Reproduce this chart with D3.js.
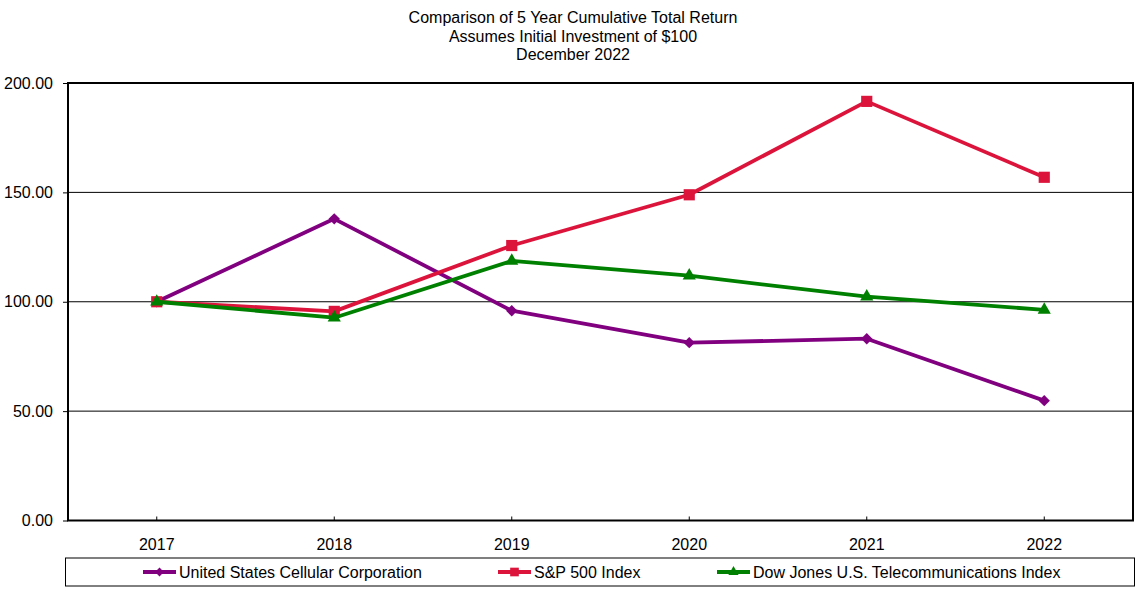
<!DOCTYPE html>
<html><head><meta charset="utf-8">
<script src="https://cdn.jsdelivr.net/npm/d3@7"></script>
<style>body{margin:0;background:#fff;font-family:"Liberation Sans",Arial,sans-serif;}</style>
</head><body><svg id="c" width="1146" height="593"></svg>
<script>
const years = ["2017","2018","2019","2020","2021","2022"];
const usccValues = [100, 137.9, 95.9, 81.3, 83.1, 54.8];
const spValues = [100, 95.6, 125.7, 148.9, 191.6, 156.9];
const djValues = [100, 92.7, 118.7, 111.9, 102.3, 96.3];
const yTicks = [0, 50, 100, 150, 200];
const titleLines = ["Comparison of 5 Year Cumulative Total Return","Assumes Initial Investment of $100","December 2022"];
const seriesNames = ["United States Cellular Corporation","S&P 500 Index","Dow Jones U.S. Telecommunications Index"];

const series = [
  {name: seriesNames[0], values: usccValues, color: "#800080", marker: "diamond"},
  {name: seriesNames[1], values: spValues, color: "#DC143C", marker: "square"},
  {name: seriesNames[2], values: djValues, color: "#008000", marker: "triangle"}
];

const svg = d3.select("#c");
const m = {left: 68, right: 1133, top: 83, bottom: 520.5};
const x = d3.scaleBand().domain(years).range([m.left, m.right]);
const y = d3.scaleLinear().domain([0, 200]).range([m.bottom, m.top]);
const cx = d => x(d) + x.bandwidth()/2;

// title
svg.append("g").selectAll("text").data(titleLines).join("text")
  .attr("x", 573).attr("y", (d,i) => 23 + i*18.5)
  .attr("text-anchor", "middle").attr("font-size", 16).attr("fill", "#000").text(d => d);

// gridlines
svg.append("g").selectAll("line").data(yTicks.filter(t => t > 0 && t < 200)).join("line")
  .attr("x1", m.left).attr("x2", m.right).attr("y1", d => y(d)).attr("y2", d => y(d))
  .attr("stroke", "#000").attr("stroke-width", 1);

// y axis
const yAxis = svg.append("g").attr("transform", `translate(${m.left},0)`)
  .call(d3.axisLeft(y).tickValues(yTicks).tickFormat(d3.format(".2f")).tickSize(5).tickPadding(10));
yAxis.select(".domain").remove();
yAxis.selectAll("text").attr("font-size", 16).attr("font-family", "Liberation Sans, Arial, sans-serif").attr("fill","#000");
yAxis.selectAll("line").attr("stroke","#000");

// x axis
const xAxis = svg.append("g").attr("transform", `translate(0,${m.bottom})`)
  .call(d3.axisBottom(x).tickSize(-4).tickPadding(18));
xAxis.select(".domain").remove();
xAxis.selectAll("text").attr("font-size", 16).attr("font-family", "Liberation Sans, Arial, sans-serif").attr("fill","#000");
xAxis.selectAll("line").attr("stroke","#000");

// frame
svg.append("rect").attr("x", m.left).attr("y", m.top).attr("width", m.right - m.left).attr("height", m.bottom - m.top)
  .attr("fill", "none").attr("stroke", "#000").attr("stroke-width", 2);

const symType = {diamond: d3.symbolSquare, square: d3.symbolSquare, triangle: d3.symbolTriangle};
const symSize = {diamond: 64, square: 125, triangle: 75};
const symRot = {diamond: 45, square: 0, triangle: 0};

const line = d3.line().x((d,i) => cx(years[i])).y(d => y(d));
series.forEach(s => {
  svg.append("path").datum(s.values).attr("d", line).attr("fill", "none")
    .attr("stroke", s.color).attr("stroke-width", 3.8).attr("stroke-linejoin", "round");
  svg.append("g").selectAll("path").data(s.values).join("path")
    .attr("transform", (d,i) => `translate(${cx(years[i])},${y(d)}) rotate(${symRot[s.marker]})`)
    .attr("d", d3.symbol().type(symType[s.marker]).size(symSize[s.marker]))
    .attr("fill", s.color);
});

// legend
svg.append("rect").attr("x", 65.5).attr("y", 558).attr("width", 1069).attr("height", 28)
  .attr("fill", "none").attr("stroke", "#000").attr("stroke-width", 1);
const legendX = [143, 498, 717];
const lg = svg.append("g").selectAll("g").data(series).join("g")
  .attr("transform", (d,i) => `translate(${legendX[i]},572)`);
lg.append("line").attr("x1", 0).attr("x2", 33).attr("y1", 0).attr("y2", 0)
  .attr("stroke", d => d.color).attr("stroke-width", 3.8);
lg.append("path").attr("transform", d => `translate(16.5,0) rotate(${symRot[d.marker]})`)
  .attr("d", d => d3.symbol().type(symType[d.marker]).size(symSize[d.marker]*0.6)())
  .attr("fill", d => d.color);
lg.append("text").attr("x", 36).attr("y", 6).attr("font-size", 16).attr("fill", "#000").text(d => d.name);
</script></body></html>
